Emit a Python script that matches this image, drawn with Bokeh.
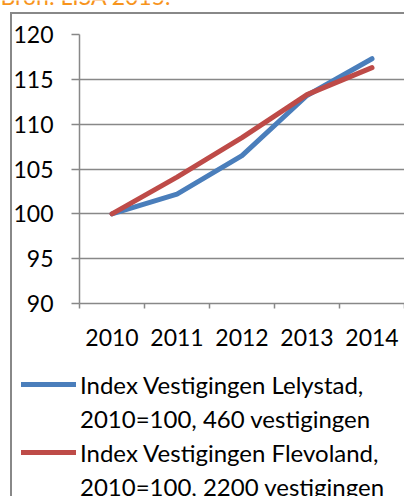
from bokeh.plotting import figure
from bokeh.layouts import column
from bokeh.models import (FixedTicker, Legend, LegendItem, Label,
                          ColumnDataSource, Range1d)
from bokeh.embed import file_html
from bokeh.resources import INLINE

years = ["2010", "2011", "2012", "2013", "2014"]
year_pos = [1, 2, 3, 4, 5]
lelystad = [100, 102.2, 106.5, 113.2, 117.3]
flevoland = [100, 104.1, 108.5, 113.3, 116.3]
y_ticks = [90, 95, 100, 105, 110, 115, 120]
legend_labels = ["Index Vestigingen Lelystad,", "2010=100, 460 vestigingen",
                 "Index Vestigingen Flevoland,", "2010=100, 2200 vestigingen"]
title_text = "Bron: LISA 2015."

FONT = "Lato"
FS = "23px"
LFS = "24px"
GRAY = "#888888"
BLUE = "#4a7ebb"
RED = "#be4b48"
ORANGE = "#f7941d"


def bare(width, height):
    f = figure(width=width, height=height, output_backend="svg", toolbar_location=None,
               x_range=Range1d(0, 1), y_range=Range1d(0, 1),
               x_axis_location=None, y_axis_location=None,
               min_border_left=0, min_border_right=0, min_border_top=0, min_border_bottom=0)
    f.frame_align = False
    f.xgrid.visible = False
    f.ygrid.visible = False
    f.outline_line_color = None
    f.background_fill_color = None
    f.border_fill_color = None
    return f


# --- source line (cut off at the top, as in the reference)
top = bare(404, 20)
top.add_layout(Label(x=0, y=24.5, x_units="screen", y_units="screen", text=title_text,
                     text_color=ORANGE, text_font=FONT, text_font_size=FS,
                     text_baseline="alphabetic"))

# --- main chart
chart = figure(width=404, height=340, output_backend="svg", toolbar_location=None,
               x_range=Range1d(0.5, 5.5), y_range=Range1d(90, 120),
               min_border_left=79, min_border_right=0, min_border_top=14,
               min_border_bottom=57)
chart.frame_align = False
chart.outline_line_color = None
chart.background_fill_color = "white"
chart.border_fill_color = None

chart.xgrid.visible = False
chart.ygrid.ticker = FixedTicker(ticks=y_ticks)
chart.ygrid.grid_line_color = GRAY
chart.ygrid.grid_line_width = 1.5

ya = chart.yaxis[0]
ya.ticker = FixedTicker(ticks=y_ticks)
ya.major_tick_out = 8
ya.major_tick_in = 0
ya.minor_tick_out = 0
ya.minor_tick_in = 0
ya.major_tick_line_color = GRAY
ya.major_tick_line_width = 1.5
ya.axis_line_color = GRAY
ya.axis_line_width = 1.5
ya.major_label_standoff = 18
ya.major_label_text_font = FONT
ya.major_label_text_font_size = FS
ya.major_label_text_color = "black"

xa = chart.xaxis[0]
xa.ticker = FixedTicker(ticks=year_pos, minor_ticks=[0.5, 1.5, 2.5, 3.5, 4.5, 5.5])
xa.major_label_overrides = {k: v for k, v in zip(year_pos, years)}
xa.major_tick_out = 0
xa.major_tick_in = 0
xa.minor_tick_out = 5
xa.minor_tick_in = 0
xa.minor_tick_line_color = GRAY
xa.minor_tick_line_width = 1.5
xa.axis_line_color = GRAY
xa.axis_line_width = 1.5
xa.major_label_standoff = 20
xa.major_label_text_font = FONT
xa.major_label_text_font_size = FS
xa.major_label_text_color = "black"

chart.line(year_pos, lelystad, line_color=BLUE, line_width=5, line_cap="round", line_join="round")
chart.line(year_pos, flevoland, line_color=RED, line_width=5, line_cap="round", line_join="round")

# --- legend (keys only: no data drawn in this panel)
leg = bare(404, 136)
nan = float("nan")
key_src = ColumnDataSource(dict(x=[nan], y=[nan]))
k1 = leg.line("x", "y", source=key_src, line_color=BLUE, line_width=5, line_cap="round")
k2 = leg.line("x", "y", source=key_src, line_alpha=0)
k3 = leg.line("x", "y", source=key_src, line_color=RED, line_width=5, line_cap="round")
k4 = leg.line("x", "y", source=key_src, line_alpha=0)
legend = Legend(items=[LegendItem(label=legend_labels[0], renderers=[k1]),
                       LegendItem(label=legend_labels[1], renderers=[k2]),
                       LegendItem(label=legend_labels[2], renderers=[k3]),
                       LegendItem(label=legend_labels[3], renderers=[k4])],
                location=(21, -7.3), orientation="vertical",
                glyph_width=55, glyph_height=34, label_height=34, label_standoff=4,
                spacing=0, padding=0, margin=0, border_line_color=None,
                background_fill_alpha=0, label_text_font=FONT,
                label_text_font_size=LFS, label_text_color="black")
leg.add_layout(legend)

p = column(top, chart, leg, spacing=0)
p.styles = {"background": "linear-gradient(#888888, #888888) 10px 12px / 2px 100% no-repeat, "
                          "linear-gradient(#888888, #888888) 10px 12px / 100% 2px no-repeat, white"}

open("out.html", "w").write(file_html(p, INLINE))
